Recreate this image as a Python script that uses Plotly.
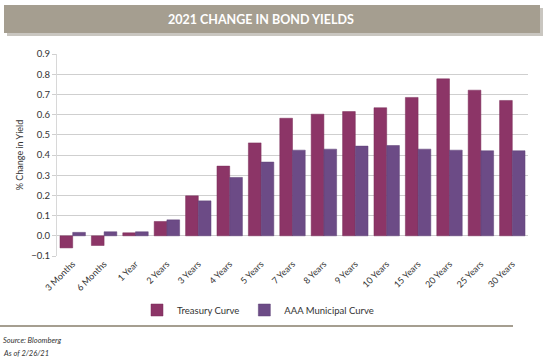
import plotly.graph_objects as go

categories = ["3 Months", "6 Months", "1 Year", "2 Years", "3 Years", "4 Years", "5 Years",
              "7 Years", "8 Years", "9 Years", "10 Years", "15 Years", "20 Years", "25 Years", "30 Years"]
treasury = [-0.06, -0.048, 0.015, 0.071, 0.198, 0.345, 0.46, 0.582, 0.602, 0.615, 0.634, 0.685, 0.777, 0.721, 0.67]
municipal = [0.017, 0.02, 0.02, 0.079, 0.173, 0.289, 0.365, 0.424, 0.429, 0.444, 0.447, 0.429, 0.424, 0.421, 0.421]
y_ticks = [-0.1, 0.0, 0.1, 0.2, 0.3, 0.4, 0.5, 0.6, 0.7, 0.8, 0.9]

FONT = "Lato"
L, R, T, B = 57, 22, 54, 107
W, H = 550, 363
PW, PH = W - L - R, H - T - B

def px(x):
    return (x - L) / PW

def py(y):
    return (H - B - y) / PH

fig = go.Figure()
fig.add_trace(go.Bar(x=categories, y=treasury, name="Treasury Curve",
                     marker=dict(color="#8C3567", line=dict(color="#7a2c59", width=0.5))))
fig.add_trace(go.Bar(x=categories, y=municipal, name="AAA Municipal Curve",
                     marker=dict(color="#6C4B86", line=dict(color="#5e4077", width=0.5))))

fig.update_layout(
    width=W, height=H,
    margin=dict(l=L, r=R, t=T, b=B, autoexpand=False),
    paper_bgcolor="white", plot_bgcolor="white",
    barmode="group", bargap=0.19, bargroupgap=0,
    font=dict(family=FONT, color="#333333", size=9),
    showlegend=True,
    legend=dict(orientation="h", x=px(258), xanchor="center", y=py(310), yanchor="middle",
                font=dict(size=9.5, color="#333333"), traceorder="normal"),
    xaxis=dict(tickangle=-45, tickfont=dict(size=9, color="#333333"), showline=False,
               showgrid=False, ticks="", automargin=False),
    yaxis=dict(range=[-0.1, 0.9], tickvals=y_ticks, tickformat=".1f", automargin=False,
               tickfont=dict(size=9.5, color="#333333"),
               title=dict(text="% Change in Yield", font=dict(size=9, color="#333333"), standoff=6),
               showgrid=True, gridcolor="#CFCFCF", gridwidth=1.2,
               zeroline=True, zerolinecolor="#CFCFCF", zerolinewidth=1.2,
               showline=True, linecolor="#D8D8D8", linewidth=1,
               ticks="outside", ticklen=4, tickcolor="#D0D0D0"),
    shapes=[
        dict(type="rect", xref="paper", yref="paper", x0=px(7), x1=px(543), y0=py(36), y1=py(8),
             fillcolor="#C9C6C0", line=dict(width=0), layer="below"),
        dict(type="rect", xref="paper", yref="paper", x0=px(4), x1=px(540), y0=py(33), y1=py(5),
             fillcolor="#A59E90", line=dict(width=0), layer="below"),
        dict(type="line", xref="paper", yref="paper", x0=px(0), x1=px(513), y0=py(326), y1=py(326),
             line=dict(color="#A59E90", width=2)),
    ],
    annotations=[
        dict(text="<b>2021 CHANGE IN BOND YIELDS</b>", xref="paper", yref="paper",
             x=px(261), y=py(19), xanchor="center", yanchor="middle", showarrow=False,
             font=dict(size=12.5, color="white", family=FONT)),
        dict(text="<i>Source: Bloomberg</i>", xref="paper", yref="paper",
             x=px(1), y=py(340), xanchor="left", yanchor="middle", showarrow=False,
             font=dict(size=7.5, color="#333333")),
        dict(text="<i>As of 2/26/21</i>", xref="paper", yref="paper",
             x=px(1), y=py(353), xanchor="left", yanchor="middle", showarrow=False,
             font=dict(size=7.5, color="#333333")),
    ],
)

fig.write_html("out.html", config={"displayModeBar": False},
               post_script="document.body.style.margin='0';")
